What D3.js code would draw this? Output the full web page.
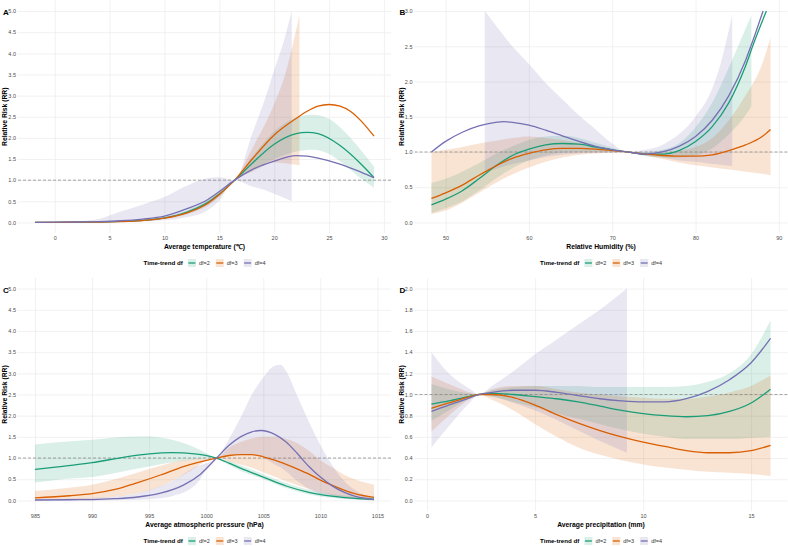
<!DOCTYPE html>
<html>
<head>
<meta charset="utf-8">
<script src="https://cdn.jsdelivr.net/npm/d3@7"></script>
<style>
  body { margin: 0; background: #fff; }
  text { font-family: "Liberation Sans", Arial, sans-serif; }
</style>
</head>
<body>
<div id="chart"></div>
<script>
// legend entries
const dfLabels = ["df=2", "df=3", "df=4"];

// A: average temperature  [x, RR] and [x, lower, upper]
const tempTicks = [0, 5, 10, 15, 20, 25, 30];
const tempFitDf2 = [[-1.8,0],[0,0.003],[2,0.006],[4,0.01],[6,0.025],[8,0.05],[10,0.11],[12,0.24],[14,0.48],[15,0.67],[16.4,1],[18,1.4],[20,1.85],[22,2.1],[23,2.13],[24,2.1],[26,1.82],[28,1.36],[29.1,1.06]];
const tempFitDf3 = [[-1.8,0],[0,0.002],[2,0.005],[4,0.008],[6,0.02],[8,0.045],[10,0.1],[12,0.22],[14,0.46],[15,0.66],[16.4,1],[18,1.5],[20,2.07],[22,2.46],[23,2.63],[24,2.75],[25,2.79],[26,2.75],[27,2.62],[28,2.38],[29.1,2.04]];
const tempFitDf4 = [[-1.8,0],[0,0.005],[2,0.01],[4,0.02],[6,0.04],[8,0.08],[10,0.15],[12,0.32],[14,0.55],[15,0.73],[16.4,1],[18,1.25],[20,1.45],[22,1.58],[23,1.57],[24,1.52],[26,1.38],[28,1.18],[29.1,1.06]];
const tempBandDf2 = [[-1.8,0,0.002],[0,0.002,0.005],[4,0.008,0.013],[6,0.02,0.03],[8,0.04,0.06],[10,0.09,0.13],[12,0.21,0.28],[14,0.43,0.54],[15,0.62,0.73],[16.4,1,1],[18,1.25,1.55],[20,1.5,2.15],[22,1.68,2.48],[23.5,1.72,2.55],[25,1.62,2.45],[26,1.45,2.25],[28,1.02,1.68],[29.1,0.82,1.32]];
const tempBandDf3 = [[-1.8,0,0.002],[0,0.001,0.004],[4,0.006,0.011],[6,0.015,0.026],[8,0.035,0.055],[10,0.08,0.12],[12,0.19,0.26],[14,0.4,0.52],[15,0.6,0.72],[16.4,1,1],[18,1.2,1.75],[20,1.42,2.8],[21,1.4,3.5],[22.3,1.35,4.9]];
const tempBandDf4 = [[-1.8,0,0.005],[0,0,0.01],[2,0,0.025],[4,0.005,0.08],[6,0.01,0.26],[8,0.02,0.42],[10,0.05,0.6],[12,0.12,0.86],[14,0.3,1.05],[15,0.52,1.07],[16.4,1,1],[18,0.85,2.1],[19,0.78,2.8],[20,0.68,3.6],[21,0.57,4.4],[21.6,0.5,5.0]];

// B: relative humidity
const humTicks = [50, 60, 70, 80, 90];
const humFitDf2 = [[48.3,0.25],[50,0.33],[52,0.45],[54,0.62],[56,0.8],[58,0.95],[60,1.04],[62,1.1],[64,1.12],[66,1.11],[68,1.07],[70,1.03],[71.8,1],[74,0.97],[76,0.97],[78,1.02],[80,1.15],[82,1.36],[84,1.7],[86,2.22],[87,2.55],[88.5,3.0]];
const humFitDf3 = [[48.3,0.34],[50,0.42],[52,0.53],[54,0.67],[56,0.8],[58,0.91],[60,0.98],[62,1.03],[64,1.05],[66,1.05],[68,1.04],[70,1.02],[71.8,1],[74,0.97],[76,0.95],[78,0.94],[80,0.94],[82,0.96],[84,1.02],[86,1.1],[88,1.22],[89,1.32]];
const humFitDf4 = [[48.3,1.0],[50,1.15],[52,1.28],[54,1.37],[56,1.42],[57,1.43],[58,1.42],[60,1.38],[62,1.31],[64,1.23],[66,1.15],[68,1.08],[70,1.03],[71.8,1],[74,0.97],[76,1.0],[78,1.08],[80,1.22],[82,1.45],[84,1.8],[86,2.3],[87,2.62],[88.1,3.0]];
const humBandDf2 = [[48.3,0.13,0.56],[50,0.2,0.62],[52,0.3,0.72],[54,0.45,0.84],[56,0.62,0.97],[58,0.77,1.08],[60,0.88,1.17],[62,0.95,1.22],[64,0.99,1.23],[66,1.0,1.2],[68,1.0,1.13],[70,1.0,1.06],[71.8,1,1],[74,0.94,1.0],[76,0.92,1.03],[78,0.92,1.12],[80,0.95,1.35],[82,1.05,1.7],[84,1.25,2.2],[86,1.52,2.75],[86.7,1.65,2.94]];
const humBandDf3 = [[48.3,0.12,1.0],[50,0.17,1.03],[52,0.28,1.07],[54,0.42,1.12],[56,0.56,1.16],[58,0.68,1.2],[60,0.78,1.22],[62,0.86,1.2],[64,0.92,1.17],[66,0.96,1.13],[68,0.98,1.08],[70,0.99,1.04],[71.8,1,1],[74,0.95,0.99],[76,0.9,0.99],[78,0.85,1.02],[80,0.81,1.07],[82,0.78,1.2],[84,0.75,1.45],[86,0.72,1.8],[88,0.69,2.25],[89,0.67,2.62]];
const humBandDf4 = [[54.7,0.72,3.0],[56,0.76,2.8],[58,0.83,2.5],[60,0.88,2.25],[62,0.93,1.98],[64,0.96,1.75],[66,0.98,1.52],[68,0.99,1.32],[70,0.995,1.12],[71.8,1,1],[74,0.95,1.03],[76,0.92,1.1],[78,0.88,1.25],[80,0.86,1.5],[82,0.83,1.9],[83,0.82,2.25],[84.4,0.8,2.95]];

// C: atmospheric pressure
const presTicks = [985, 990, 995, 1000, 1005, 1010, 1015];
const presFitDf2 = [[985,0.73],[987,0.79],[990,0.89],[993,1.03],[995,1.1],[997,1.13],[999,1.1],[1000.9,1],[1002,0.88],[1003,0.76],[1005,0.55],[1007,0.34],[1009,0.19],[1011,0.1],[1013,0.05],[1014.7,0.03]];
const presFitDf3 = [[985,0.06],[988,0.11],[990,0.16],[992,0.26],[994,0.42],[996,0.6],[998,0.8],[1000.9,1],[1002,1.06],[1003,1.08],[1004,1.08],[1005,1.03],[1006,0.95],[1007,0.85],[1008,0.74],[1009,0.62],[1010,0.48],[1011,0.36],[1012,0.25],[1013,0.16],[1014.7,0.07]];
const presFitDf4 = [[985,0.01],[988,0.015],[990,0.02],[992,0.04],[994,0.08],[996,0.17],[998,0.36],[999.5,0.62],[1000.9,1],[1002,1.3],[1003,1.5],[1004,1.62],[1004.8,1.65],[1006,1.56],[1007,1.38],[1008,1.1],[1009,0.8],[1010,0.55],[1011,0.35],[1012,0.2],[1013,0.1],[1014.7,0.02]];
const presBandDf2 = [[985,0.42,1.32],[987,0.49,1.37],[990,0.55,1.43],[993,0.7,1.5],[995,0.8,1.51],[997,0.9,1.43],[999,0.96,1.25],[1000.9,1,1],[1002,0.83,0.93],[1003,0.7,0.83],[1005,0.5,0.62],[1007,0.29,0.41],[1009,0.14,0.25],[1011,0.06,0.15],[1013,0.03,0.09],[1014.7,0.01,0.07]];
const presBandDf3 = [[985,0.0,0.22],[988,0.02,0.3],[990,0.04,0.37],[992,0.09,0.5],[994,0.17,0.66],[996,0.33,0.82],[998,0.6,0.95],[1000.9,1,1],[1002,0.92,1.25],[1003,0.85,1.38],[1004,0.77,1.46],[1005,0.66,1.5],[1006,0.56,1.5],[1007,0.45,1.45],[1008,0.36,1.35],[1009,0.27,1.17],[1010,0.19,0.95],[1011,0.13,0.78],[1012,0.08,0.62],[1013,0.04,0.5],[1014.7,0.0,0.37]];
const presBandDf4 = [[985,0,0.03],[990,0,0.06],[993,0.01,0.12],[995,0.03,0.24],[997,0.1,0.45],[999,0.35,0.78],[1000.9,1,1],[1002,1.05,1.45],[1003,1.08,1.95],[1004,1.08,2.5],[1005,1.0,2.9],[1006,0.85,3.18],[1006.5,0.78,3.2],[1007,0.68,3.05],[1008,0.45,2.45],[1009,0.27,1.85],[1010,0.15,1.3],[1011,0.08,0.85],[1012,0.04,0.48],[1013,0.02,0.25],[1014.7,0,0.05]];

// D: precipitation
const precTicks = [0, 5, 10, 15];
const precFitDf2 = [[0.2,0.91],[1,0.94],[2,0.985],[2.4,1],[3,1.01],[4,1.0],[5,0.98],[6,0.96],[7,0.93],[8,0.89],[9,0.85],[10,0.82],[11,0.8],[12,0.79],[13,0.8],[14,0.84],[15,0.92],[15.9,1.05]];
const precFitDf3 = [[0.2,0.87],[1,0.92],[2,0.98],[2.4,1],[3,1.0],[4,0.97],[5,0.9],[6,0.81],[7,0.73],[8,0.66],[9,0.6],[10,0.55],[11,0.51],[12,0.47],[13,0.45],[14,0.45],[15,0.47],[15.9,0.52]];
const precFitDf4 = [[0.2,0.84],[1,0.9],[2,0.97],[2.4,1],[3,1.02],[4,1.04],[5,1.04],[6,1.02],[7,0.99],[8,0.96],[9,0.94],[10,0.93],[11,0.93],[12,0.96],[13,1.03],[14,1.14],[15,1.3],[15.9,1.53]];
const precBandDf2 = [[0.2,0.75,1.1],[1,0.85,1.05],[2,0.97,1.01],[2.4,1,1],[3,0.98,1.04],[4,0.93,1.07],[5,0.88,1.08],[6,0.82,1.08],[7,0.77,1.08],[8,0.72,1.07],[9,0.67,1.07],[10,0.63,1.07],[11,0.6,1.07],[12,0.58,1.08],[13,0.58,1.12],[14,0.58,1.2],[15,0.59,1.38],[15.9,0.6,1.7]];
const precBandDf3 = [[0.2,0.65,1.17],[1,0.8,1.1],[2,0.96,1.02],[2.4,1,1],[3,0.95,1.05],[4,0.85,1.08],[5,0.72,1.08],[6,0.6,1.05],[7,0.5,1.02],[8,0.43,1.0],[9,0.38,0.98],[10,0.34,0.97],[11,0.31,0.96],[12,0.29,0.96],[13,0.27,0.98],[14,0.26,1.02],[15,0.25,1.08],[15.9,0.23,1.18]];
const precBandDf4 = [[0.2,0.5,1.4],[1,0.7,1.2],[2,0.93,1.05],[2.4,1,1],[3,0.98,1.08],[4,0.92,1.22],[5,0.85,1.38],[6,0.76,1.52],[7,0.66,1.66],[8,0.56,1.8],[9.25,0.45,2.0]];

// y tick values
const rrTicks5 = [0, 0.5, 1, 1.5, 2, 2.5, 3, 3.5, 4, 4.5, 5];
const rrTicks3 = [0, 0.5, 1, 1.5, 2, 2.5, 3];
const rrTicks2 = [0, 0.2, 0.4, 0.6, 0.8, 1, 1.2, 1.4, 1.6, 1.8, 2];

const width = 788;
const height = 546;
const colors = ["#1B9E77", "#D95F02", "#7570B3"];

const svg = d3.select("#chart").append("svg")
  .attr("width", width).attr("height", height);

const colLeft = { x0: 18, x1: 391 };
const colRight = { x0: 414.5, x1: 787.5 };
const rowTop = { y0: 0.5, y1: 233 };
const rowBottom = { y0: 278, y1: 511 };

const panels = [
  { tag: "A", col: colLeft, row: rowTop, yTicks: rrTicks5, xTicks: tempTicks,
    xTitle: "Average temperature (\u2103)",
    fits: [tempFitDf2, tempFitDf3, tempFitDf4], bands: [tempBandDf2, tempBandDf3, tempBandDf4] },
  { tag: "B", col: colRight, row: rowTop, yTicks: rrTicks3, xTicks: humTicks,
    xTitle: "Relative Humidity (%)",
    fits: [humFitDf2, humFitDf3, humFitDf4], bands: [humBandDf2, humBandDf3, humBandDf4] },
  { tag: "C", col: colLeft, row: rowBottom, yTicks: rrTicks5, xTicks: presTicks,
    xTitle: "Average atmospheric pressure (hPa)",
    fits: [presFitDf2, presFitDf3, presFitDf4], bands: [presBandDf2, presBandDf3, presBandDf4] },
  { tag: "D", col: colRight, row: rowBottom, yTicks: rrTicks2, xTicks: precTicks,
    xTitle: "Average precipitation (mm)",
    fits: [precFitDf2, precFitDf3, precFitDf4], bands: [precBandDf2, precBandDf3, precBandDf4] }
];

panels.forEach((p, i) => {
  const { x0, x1 } = p.col;
  const { y0, y1 } = p.row;

  // ggplot-like 5% expansion
  const xs = p.fits.flat().map((d) => d[0]);
  const xMin = d3.min(xs), xMax = d3.max(xs);
  const xPad = (xMax - xMin) * 0.05;
  const x = d3.scaleLinear().domain([xMin - xPad, xMax + xPad]).range([x0, x1]);

  const yMax = d3.max(p.yTicks);
  const y = d3.scaleLinear().domain([-yMax * 0.05, yMax * 1.05]).range([y1, y0]);

  const g = svg.append("g");

  // grid
  g.append("g")
    .attr("transform", `translate(0,${y1})`)
    .call(d3.axisBottom(x).tickValues(p.xTicks).tickSize(-(y1 - y0)).tickFormat(""))
    .call((s) => s.select(".domain").remove())
    .call((s) => s.selectAll("line").attr("stroke", "#ebebeb").attr("stroke-width", 0.7));
  g.append("g")
    .attr("transform", `translate(${x0},0)`)
    .call(d3.axisLeft(y).tickValues(p.yTicks).tickSize(-(x1 - x0)).tickFormat(""))
    .call((s) => s.select(".domain").remove())
    .call((s) => s.selectAll("line").attr("stroke", "#ebebeb").attr("stroke-width", 0.7));

  // tick labels
  g.append("g")
    .attr("transform", `translate(0,${y1})`)
    .call(d3.axisBottom(x).tickValues(p.xTicks).tickSize(0).tickPadding(3).tickFormat(d3.format("d")))
    .call((s) => s.select(".domain").remove())
    .call((s) => s.selectAll("text").attr("font-size", 5.5).attr("fill", "#4d4d4d")
      .attr("font-family", '"Liberation Sans", Arial, sans-serif'));
  g.append("g")
    .attr("transform", `translate(${x0},0)`)
    .call(d3.axisLeft(y).tickValues(p.yTicks).tickSize(0).tickPadding(2).tickFormat(d3.format(".1f")))
    .call((s) => s.select(".domain").remove())
    .call((s) => s.selectAll("text").attr("font-size", 5.5).attr("fill", "#4d4d4d")
      .attr("font-family", '"Liberation Sans", Arial, sans-serif'));

  const clipId = `clip${i}`;
  svg.append("clipPath").attr("id", clipId)
    .append("rect").attr("x", x0).attr("y", y0).attr("width", x1 - x0).attr("height", y1 - y0);
  const plot = g.append("g").attr("clip-path", `url(#${clipId})`);

  const area = d3.area().curve(d3.curveMonotoneX)
    .x((d) => x(d[0])).y0((d) => y(d[1])).y1((d) => y(d[2]));
  const line = d3.line().curve(d3.curveMonotoneX)
    .x((d) => x(d[0])).y((d) => y(d[1]));

  p.bands.forEach((b, k) => {
    plot.append("path").datum(b).attr("d", area)
      .attr("fill", colors[k]).attr("fill-opacity", 0.17);
  });

  plot.append("line")
    .attr("x1", x0).attr("x2", x1).attr("y1", y(1)).attr("y2", y(1))
    .attr("stroke", "#7f7f7f").attr("stroke-width", 0.7).attr("stroke-dasharray", "3,2");

  p.fits.forEach((f, k) => {
    plot.append("path").datum(f).attr("d", line)
      .attr("fill", "none").attr("stroke", colors[k]).attr("stroke-width", 1.3);
  });

  // axis titles
  g.append("text")
    .attr("x", (x0 + x1) / 2).attr("y", y1 + 15.5)
    .attr("text-anchor", "middle").attr("font-size", 6.8).attr("font-weight", "bold")
    .text(p.xTitle);
  g.append("text")
    .attr("transform", `translate(${x0 - 13},${(y0 + y1) / 2}) rotate(-90)`)
    .attr("text-anchor", "middle").attr("dy", "0.35em")
    .attr("font-size", 6.8).attr("font-weight", "bold")
    .text("Relative Risk (RR)");

  // panel tag
  g.append("text")
    .attr("x", x0 - 15).attr("y", y0 + 14.5)
    .attr("font-size", 8).attr("font-weight", "bold")
    .text(p.tag);

  // legend
  const lg = g.append("g");
  const title = lg.append("text").attr("x", 0).attr("y", 0).attr("dy", "0.35em")
    .attr("font-size", 6.2).attr("font-weight", "bold").text("Time-trend df");
  let cx = title.node().getComputedTextLength() + 5;
  dfLabels.forEach((lab, k) => {
    lg.append("rect").attr("x", cx).attr("y", -4).attr("width", 8).attr("height", 8)
      .attr("fill", colors[k]).attr("fill-opacity", 0.17);
    lg.append("line").attr("x1", cx + 0.5).attr("x2", cx + 7.5).attr("y1", 0).attr("y2", 0)
      .attr("stroke", colors[k]).attr("stroke-width", 1.3);
    cx += 11;
    const t = lg.append("text").attr("x", cx).attr("y", 0).attr("dy", "0.35em")
      .attr("font-size", 5.5).attr("fill", "#333").text(lab);
    cx += t.node().getComputedTextLength() + 6;
  });
  cx -= 6;
  lg.attr("transform", `translate(${(x0 + x1) / 2 - cx / 2},${y1 + 30})`);
});
</script>
</body>
</html>
